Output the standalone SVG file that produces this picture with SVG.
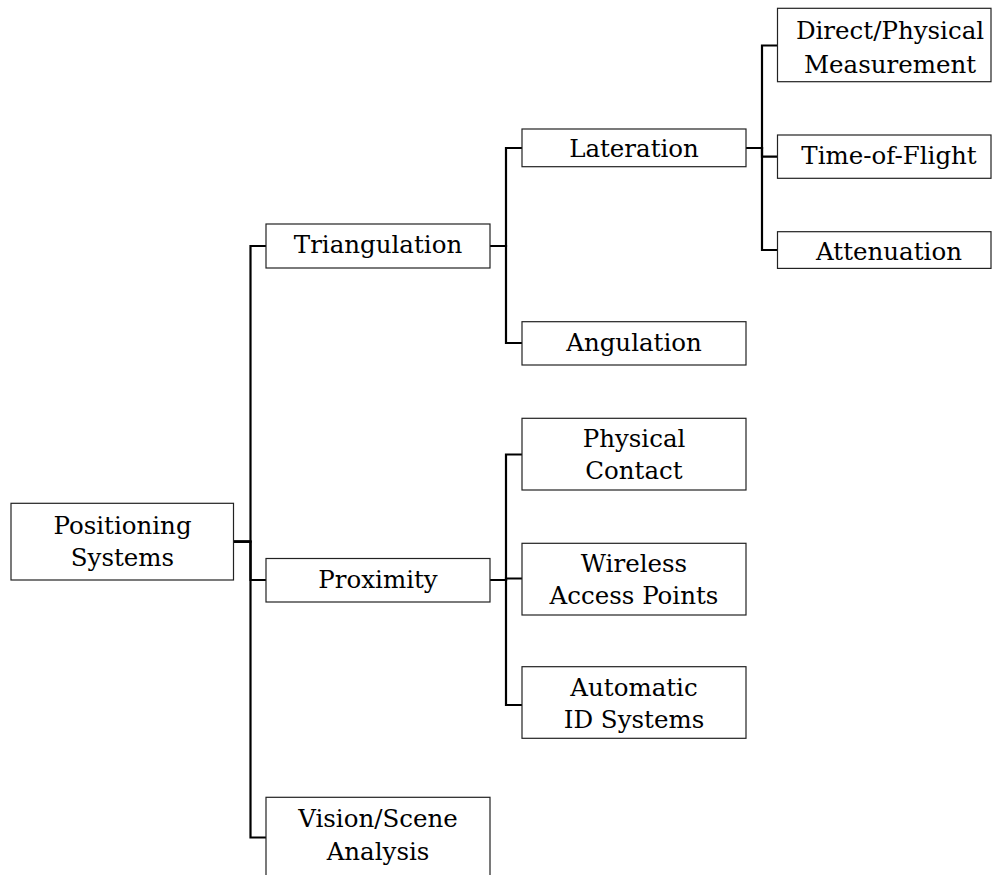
<svg xmlns="http://www.w3.org/2000/svg" width="992" height="875" viewBox="0 0 992 875">
  <style>
    .box { fill: #ffffff; stroke: #222222; stroke-width: 1.2; }
    .lbl { font-family: 'DejaVu Serif', serif; font-size: 24.5px; fill: #000000; text-anchor: middle; }
    .edge { fill: none; stroke: #000000; stroke-width: 2.2; stroke-linejoin: miter; }
  </style>
  <rect width="992" height="875" fill="#ffffff"/>

  <!-- elbow connectors: parent side -> trunk -> child side -->
  <g id="connectors">
    <path class="edge" d="M233.5 541.7 H250.5 V246 H266"/>
    <path class="edge" d="M233.5 541.7 H250.5 V580 H266"/>
    <path class="edge" d="M233.5 541.7 H250.5 V837.5 H266"/>

    <path class="edge" d="M490 246 H506 V148 H522"/>
    <path class="edge" d="M490 246 H506 V343 H522"/>

    <path class="edge" d="M746 148 H762 V45.5 H777.5"/>
    <path class="edge" d="M746 148 H762 V156.7 H777.5"/>
    <path class="edge" d="M746 148 H762 V250 H777.5"/>

    <path class="edge" d="M490 580 H506 V454.5 H522"/>
    <path class="edge" d="M490 580 H506 V578.5 H522"/>
    <path class="edge" d="M490 580 H506 V705 H522"/>
  </g>

  <g id="root">
    <rect class="box" x="11" y="503.3" width="222.5" height="76.7"/>
    <text class="lbl" x="122.5" y="533.5">Positioning</text>
    <text class="lbl" x="122.5" y="565.5">Systems</text>
  </g>

  <g id="triangulation">
    <rect class="box" x="266" y="224" width="224" height="44"/>
    <text class="lbl" x="378" y="253.3">Triangulation</text>
  </g>

  <g id="proximity">
    <rect class="box" x="266" y="558.5" width="224" height="43.5"/>
    <text class="lbl" x="378" y="587.5">Proximity</text>
  </g>

  <g id="vision">
    <rect class="box" x="266" y="797.3" width="224" height="80"/>
    <text class="lbl" x="378" y="827">Vision/Scene</text>
    <text class="lbl" x="378" y="860">Analysis</text>
  </g>

  <g id="lateration">
    <rect class="box" x="522" y="129" width="224" height="37.7"/>
    <text class="lbl" x="634" y="157">Lateration</text>
  </g>

  <g id="angulation">
    <rect class="box" x="522" y="321.7" width="224" height="43.3"/>
    <text class="lbl" x="634" y="350.5">Angulation</text>
  </g>

  <g id="direct-physical">
    <rect class="box" x="777.5" y="8.3" width="213.5" height="73.4"/>
    <text class="lbl" x="890" y="39.3">Direct/Physical</text>
    <text class="lbl" x="890" y="72.5">Measurement</text>
  </g>

  <g id="time-of-flight">
    <rect class="box" x="777.5" y="135" width="213.5" height="43.3"/>
    <text class="lbl" x="889" y="164">Time-of-Flight</text>
  </g>

  <g id="attenuation">
    <rect class="box" x="777.5" y="231.7" width="213.5" height="36.7"/>
    <text class="lbl" x="889" y="259.5">Attenuation</text>
  </g>

  <g id="physical-contact">
    <rect class="box" x="522" y="418.3" width="224" height="71.7"/>
    <text class="lbl" x="634" y="446.7">Physical</text>
    <text class="lbl" x="634" y="478.5">Contact</text>
  </g>

  <g id="wireless">
    <rect class="box" x="522" y="543.3" width="224" height="71.7"/>
    <text class="lbl" x="634" y="572">Wireless</text>
    <text class="lbl" x="634" y="604">Access Points</text>
  </g>

  <g id="automatic-id">
    <rect class="box" x="522" y="666.7" width="224" height="71.6"/>
    <text class="lbl" x="634" y="695.5">Automatic</text>
    <text class="lbl" x="634" y="727.5">ID Systems</text>
  </g>
</svg>
